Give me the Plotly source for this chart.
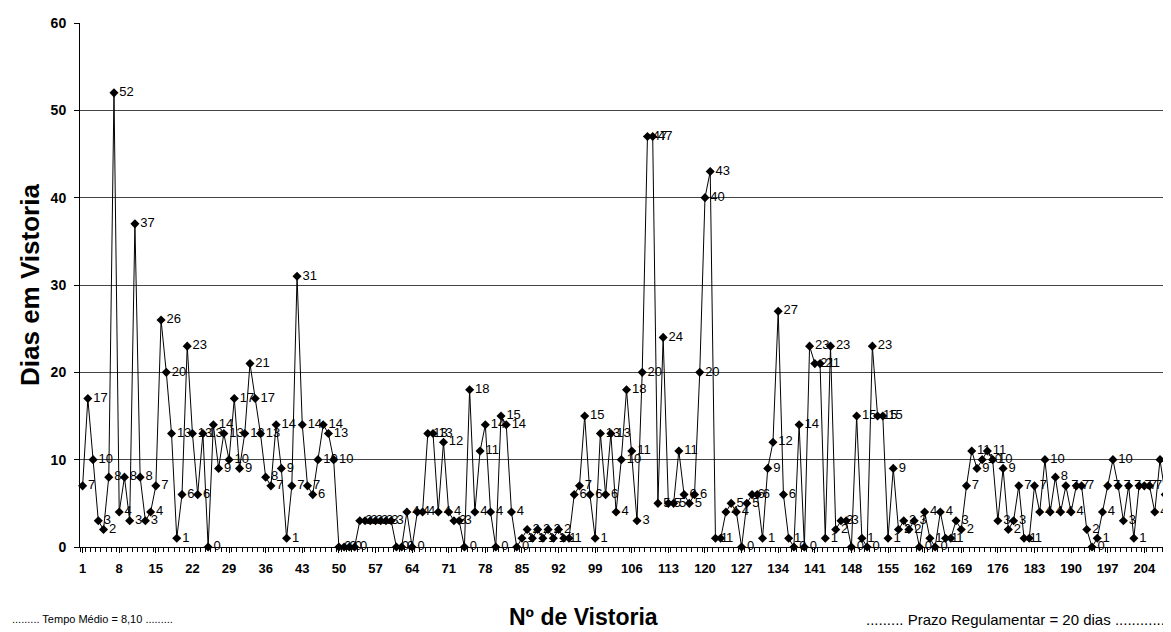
import plotly.graph_objects as go

# ---- data ----
dias = [
    7, 17, 10, 3, 2, 8, 52, 4, 8, 3,          # 1-10
    37, 8, 3, 4, 7, 26, 20, 13, 1, 6,         # 11-20
    23, 13, 6, 13, 0, 14, 9, 13, 10, 17,      # 21-30
    9, 13, 21, 17, 13, 8, 7, 14, 9, 1,        # 31-40
    7, 31, 14, 7, 6, 10, 14, 13, 10, 0,       # 41-50
    0, 0, 0, 3, 3, 3, 3, 3, 3, 3,             # 51-60
    0, 0, 4, 0, 4, 4, 13, 13, 4, 12,          # 61-70
    4, 3, 3, 0, 18, 4, 11, 14, 4, 0,          # 71-80
    15, 14, 4, 0, 1, 2, 1, 2, 1, 2,           # 81-90
    1, 2, 1, 1, 6, 7, 15, 6, 1, 13,           # 91-100
    6, 13, 4, 10, 18, 11, 3, 20, 47, 47,      # 101-110
    5, 24, 5, 5, 11, 6, 5, 6, 20, 40,         # 111-120
    43, 1, 1, 4, 5, 4, 0, 5, 6, 6,            # 121-130
    1, 9, 12, 27, 6, 1, 0, 14, 0, 23,         # 131-140
    21, 21, 1, 23, 2, 3, 3, 0, 15, 1,         # 141-150
    0, 23, 15, 15, 1, 9, 2, 3, 2, 3,          # 151-160
    0, 4, 1, 0, 4, 1, 1, 3, 2, 7,             # 161-170
    11, 9, 10, 11, 10, 3, 9, 2, 3, 7,         # 171-180
    1, 1, 7, 4, 10, 4, 8, 4, 7, 4,            # 181-190
    7, 7, 2, 0, 1, 4, 7, 10, 7, 3,            # 191-200
    7, 1, 7, 7, 7, 4, 10, 6,                  # 201-208
]
vistoria = list(range(1, len(dias) + 1))
x_tick_vals = list(range(1, 205, 7))
x_tick_text = [str(v) for v in x_tick_vals]
y_tick_vals = [0, 10, 20, 30, 40, 50, 60]

FONT = "Arial, Liberation Sans, sans-serif"

fig = go.Figure()
fig.add_trace(go.Scatter(
    x=vistoria, y=dias,
    mode="lines+markers+text",
    text=[str(v) for v in dias],
    textposition="middle right",
    textfont=dict(family=FONT, size=13, color="black"),
    line=dict(color="black", width=1),
    marker=dict(symbol="diamond", size=7, color="black"),
    cliponaxis=False,
    showlegend=False,
))

# plot-area geometry in pixels
W, H = 1171, 632
L, R, T, B = 72, 0, 15, 93
pw, ph = W - L - R, H - T - B

def px_x(p):
    return (p - L) / pw

def px_y(p):
    return (H - B - p) / ph

fig.update_layout(
    width=W, height=H,
    margin=dict(l=L, r=R, t=T, b=B),
    paper_bgcolor="white", plot_bgcolor="white",
    font=dict(family=FONT, color="black"),
    xaxis=dict(
        range=[0.5, 0.5 + pw / 5.23],
        tickmode="array", tickvals=x_tick_vals, ticktext=x_tick_text,
        tickfont=dict(family=FONT, size=13, color="black", weight="bold"),
        ticks="outside", ticklen=5, tickcolor="black",
        ticklabelstandoff=4,
        minor=dict(ticks="outside", dtick=1, tick0=0.5, ticklen=4, tickcolor="black"),
        showline=True, linecolor="black", linewidth=1,
        showgrid=False, zeroline=False,
    ),
    yaxis=dict(
        range=[0, 60],
        tickmode="array", tickvals=y_tick_vals,
        tickfont=dict(family=FONT, size=14, color="black", weight="bold"),
        ticks="outside", ticklen=5, tickcolor="black",
        ticklabelstandoff=5,
        showline=True, linecolor="black", linewidth=1,
        showgrid=True, gridcolor="#444", gridwidth=1,
        zeroline=False,
    ),
    annotations=[
        dict(text="<b>Dias em Vistoria</b>", textangle=-90,
             xref="paper", yref="paper", x=px_x(22), y=0.5,
             xanchor="center", yanchor="middle", showarrow=False,
             font=dict(family=FONT, size=26, color="black")),
        dict(text="<b>Nº de Vistoria</b>",
             xref="paper", yref="paper", x=px_x(575), y=px_y(609),
             xanchor="center", yanchor="middle", showarrow=False,
             font=dict(family=FONT, size=23, color="black")),
        dict(text="......... Tempo Médio = 8,10 .........",
             xref="paper", yref="paper", x=px_x(2), y=px_y(611),
             xanchor="left", yanchor="middle", showarrow=False,
             font=dict(family=FONT, size=11, color="black")),
        dict(text="......... Prazo Regulamentar = 20 dias .............",
             xref="paper", yref="paper", x=px_x(1163), y=px_y(611),
             xanchor="right", yanchor="middle", showarrow=False,
             font=dict(family=FONT, size=15, color="black")),
    ],
)

fig.write_html("out.html")
